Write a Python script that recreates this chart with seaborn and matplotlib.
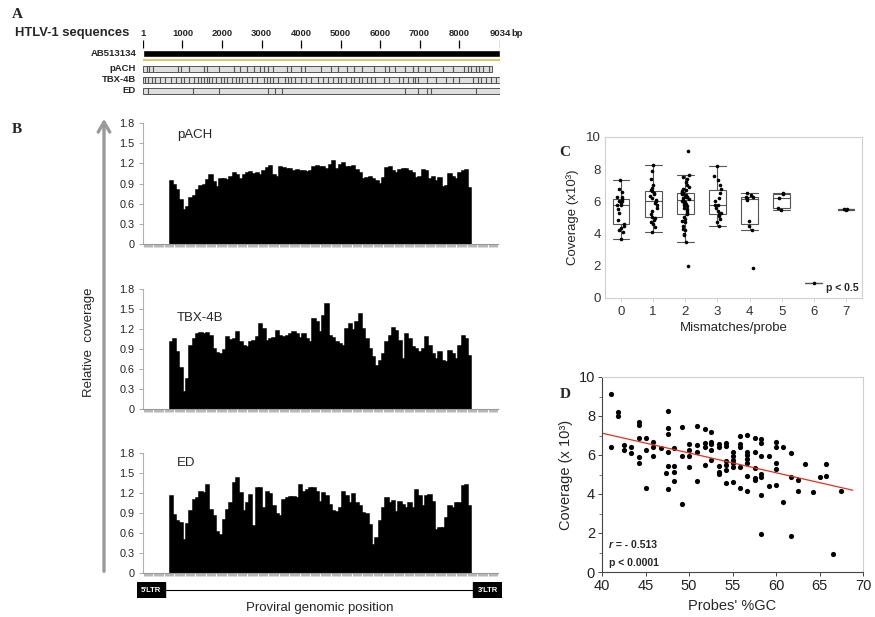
import numpy as np
import pandas as pd
import matplotlib
matplotlib.use("Agg")
import matplotlib.pyplot as plt
import seaborn as sns
from matplotlib.ticker import MultipleLocator
from matplotlib.patches import Rectangle, FancyArrowPatch

# ---------------- DATA ----------------
# Panel A: genome ruler and sequence mismatch positions (bp)
ruler_ticks = [1, 1000, 2000, 3000, 4000, 5000, 6000, 7000, 8000, 9034]
ref_name = "AB513134"
genome_len = 9034
seq_names = ["pACH", "TBX-4B", "ED"]
seq_lengths = [8842, 9034, 9034]
pach_mm = [92, 158, 258, 883, 967, 1175, 1550, 1633, 1925, 2300, 2467, 2633, 2800, 2967, 3050,
           3175, 3300, 3633, 3758, 4008, 4092, 4508, 4758, 4925, 5175, 5342, 5550, 5842, 6133,
           6217, 6383, 6633, 6842, 6967, 7133, 7258, 7592, 7842, 8133, 8217, 8300, 8425, 8508,
           8592, 8758]
tbx_mm = [50, 133, 217, 300, 425, 550, 717, 842, 967, 1050, 1175, 1300, 1383, 1467, 1550, 1633,
          1675, 1758, 1842, 1967, 2050, 2133, 2258, 2342, 2425, 2508, 2633, 2758, 2883, 3050,
          3133, 3217, 3300, 3425, 3592, 3675, 3758, 3842, 4008, 4133, 4258, 4425, 4550, 4675,
          4800, 4925, 5008, 5133, 5258, 5342, 5467, 5550, 5675, 5758, 5883, 6092, 6217, 6467,
          6592, 6717, 6842, 6883, 6967, 7175, 7425, 7675, 7842, 8008, 8342, 8467, 8550, 8675,
          8800, 8925]
ed_mm = [133, 1258, 1925, 3175, 3342, 3508, 6633, 6967, 7175, 7300, 8425]

# Panel B: relative coverage along the provirus
pach_vals = [0.93, 0.88, 0.80, 0.66, 0.50, 0.55, 0.68, 0.72, 0.80, 0.87,
             0.88, 0.95, 1.02, 0.92, 0.85, 0.97, 0.96, 0.95, 1.00, 1.06,
             1.02, 0.97, 1.03, 1.06, 1.07, 1.04, 1.05, 1.03, 1.08, 1.13,
             1.16, 1.02, 1.00, 1.14, 1.13, 1.12, 1.11, 1.09, 1.10, 1.09,
             1.08, 1.07, 1.08, 1.15, 1.16, 1.15, 1.14, 1.11, 1.18, 1.23,
             1.12, 1.18, 1.20, 1.14, 1.15, 1.16, 1.10, 1.05, 0.96, 0.98,
             1.00, 0.96, 0.94, 0.89, 0.98, 1.13, 1.15, 1.08, 1.05, 1.10,
             1.12, 1.11, 1.08, 1.06, 0.98, 1.00, 1.10, 1.08, 0.97, 1.00,
             0.93, 0.98, 0.85, 0.87, 1.04, 1.00, 0.97, 1.05, 1.09, 1.10,
             0.84]
tbx_vals = [1.00, 1.05, 0.85, 0.62, 0.25, 0.45, 0.95, 1.05, 1.12, 1.14,
            1.12, 1.14, 1.10, 0.90, 0.84, 0.82, 0.88, 1.08, 1.03, 1.05,
            1.15, 1.00, 0.95, 0.93, 1.01, 1.02, 1.08, 1.27, 1.20, 1.02,
            1.05, 1.07, 1.17, 1.10, 1.08, 1.10, 1.13, 1.15, 1.12, 1.07,
            1.12, 1.05, 1.00, 1.35, 1.30, 1.15, 1.40, 1.57, 1.10, 1.07,
            1.00, 0.97, 0.95, 1.20, 1.28, 1.18, 1.30, 1.42, 1.20, 1.05,
            0.90, 0.78, 0.65, 0.72, 0.82, 1.00, 1.10, 1.22, 1.17, 1.02,
            0.75, 1.13, 1.05, 0.93, 0.90, 0.86, 0.90, 1.08, 0.95, 0.82,
            0.75, 0.85, 0.72, 0.70, 0.87, 0.82, 0.75, 0.95, 1.10, 1.05,
            0.80]
ed_vals = [1.15, 0.87, 0.78, 0.75, 0.50, 0.73, 0.93, 1.10, 1.12, 1.22,
           1.20, 1.32, 0.95, 0.85, 0.62, 0.57, 0.80, 0.95, 1.05, 1.35,
           1.42, 1.20, 0.93, 1.05, 1.17, 0.70, 1.28, 1.27, 0.97, 1.22,
           1.18, 1.00, 0.88, 0.85, 1.10, 1.12, 1.14, 1.14, 1.13, 1.32,
           1.22, 1.25, 1.27, 1.28, 1.22, 1.07, 1.20, 1.15, 1.02, 0.93,
           0.92, 0.97, 1.22, 1.15, 1.05, 1.18, 1.05, 1.00, 0.90, 0.88,
           0.72, 0.42, 0.53, 0.78, 0.97, 1.12, 1.05, 1.08, 0.92, 1.07,
           1.02, 0.97, 1.05, 0.98, 1.25, 1.15, 1.00, 1.15, 1.17, 1.07,
           0.65, 0.67, 0.67, 0.83, 1.00, 0.97, 1.05, 1.05, 1.30, 1.32,
           1.00]
b_yticks = [0, 0.3, 0.6, 0.9, 1.2, 1.5, 1.8]
b_yticklabels = ["0", "0.3", "0.6", "0.9", "1.2", "1.5", "1.8"]

# Panel C: coverage (x10^3) by number of mismatches per probe
mm0 = [3.65, 4.1, 4.2, 4.35, 4.5, 4.6, 4.85, 5.3, 5.5, 5.75, 5.8, 5.9, 6.0, 6.05, 6.15, 6.25, 6.3, 6.6, 6.75, 7.3]
mm1 = [4.1, 4.4, 4.6, 4.75, 4.85, 4.95, 5.05, 5.2, 5.4, 5.6, 5.8, 5.9, 6.0, 6.1, 6.2, 6.35, 6.45, 6.55,
       6.65, 6.7, 6.85, 7.0, 7.4, 7.9, 8.25]
mm2 = [2.0, 3.5, 3.9, 4.0, 4.2, 4.3, 4.5, 4.7, 4.8, 4.9, 5.05, 5.2, 5.3, 5.4, 5.5, 5.6, 5.7, 5.75, 5.85,
       5.9, 5.95, 6.0, 6.1, 6.15, 6.2, 6.25, 6.3, 6.3, 6.35, 6.4, 6.45, 6.5, 6.5, 6.55, 6.6, 6.65, 6.7,
       6.8, 6.9, 7.0, 7.2, 7.4, 7.5, 7.65, 9.1]
mm3 = [4.5, 4.7, 4.9, 5.1, 5.2, 5.3, 5.4, 5.6, 5.75, 5.8, 6.0, 6.2, 6.5, 6.8, 7.0, 7.3, 7.6, 8.2]
mm4 = [1.85, 4.25, 4.5, 4.8, 6.1, 6.2, 6.25, 6.3, 6.4, 6.5]
mm5 = [5.45, 5.6, 6.2, 6.45, 6.5]
mm6 = [0.95]
mm7 = [5.45, 5.5, 5.55]
mm_groups = [mm0, mm1, mm2, mm3, mm4, mm5, mm6, mm7]

# Panel D: probe GC content vs coverage
gc = [41.0, 41.0, 41.8, 41.8, 42.5, 42.5, 43.3, 43.3,
      44.3, 44.3, 44.3, 44.3, 44.3, 45.1, 45.1, 45.1, 45.9, 45.9, 45.9, 46.8, 47.3,
      47.6, 47.6, 47.6, 47.6, 47.6, 47.6, 48.3, 48.3, 48.3, 48.3, 49.2, 49.2, 49.2,
      50.0, 50.0, 50.0, 50.0, 50.9, 50.9, 50.9, 50.9, 51.8, 51.8, 51.8, 51.8,
      52.5, 52.5, 52.5, 52.5, 52.5, 53.4, 53.4, 53.4, 53.4, 53.4,
      54.3, 54.3, 54.3, 54.3, 54.3, 54.3, 55.0, 55.0, 55.0, 55.0, 55.0, 55.0,
      55.9, 55.9, 55.9, 55.9, 55.9, 56.7, 56.7, 56.7, 56.7, 56.7, 56.7, 56.7,
      57.6, 57.6, 57.6, 57.6, 57.6, 58.3, 58.3, 58.3, 58.3, 58.3, 58.3, 58.3,
      59.2, 59.2, 60.0, 60.0, 60.0, 60.0, 60.0, 60.8, 60.8, 61.7, 61.7, 61.7,
      62.5, 62.5, 63.3, 64.2, 65.0, 65.7, 65.7, 66.6, 67.5]
cov = [9.15, 6.39, 8.2, 7.98, 6.5, 6.25, 6.39, 6.12,
       7.7, 7.53, 6.85, 5.88, 5.6, 6.85, 6.25, 4.29, 6.68, 6.39, 5.95, 6.34, 5.06,
       8.26, 7.36, 7.1, 6.17, 5.43, 4.24, 6.34, 5.43, 5.14, 4.67, 7.44, 5.95, 3.49,
       6.56, 6.25, 5.95, 5.4, 7.48, 6.51, 6.17, 4.67, 7.31, 6.63, 6.39, 5.49,
       7.19, 6.68, 6.56, 6.25, 5.74, 6.56, 6.39, 5.43, 5.14, 5.01,
       6.63, 6.46, 5.71, 5.49, 5.23, 4.58, 6.17, 5.95, 5.74, 5.57, 5.37, 4.63,
       6.97, 6.56, 6.39, 5.4, 4.29, 7.02, 6.17, 6.0, 5.78, 5.6, 4.92, 4.17,
       6.85, 6.17, 5.32, 4.8, 4.72, 6.8, 6.63, 5.95, 5.03, 4.86, 3.95, 1.96,
       5.95, 4.41, 6.68, 6.39, 5.57, 5.26, 4.46, 6.39, 3.61, 6.08, 4.86, 1.87,
       4.72, 4.17, 5.54, 4.09, 4.86, 5.52, 4.92, 0.94, 4.17]

# ---------------- FIGURE ----------------
sns.set_theme(style="white")
plt.rcParams['font.family'] = ['Liberation Sans', 'DejaVu Sans']
SERIF = ['Liberation Serif', 'DejaVu Serif']

W, H = 875, 617
fig = plt.figure(figsize=(8.75, 6.17), dpi=100)


def px_axes(left, top, right, bottom):
    return fig.add_axes([left / W, 1 - bottom / H, (right - left) / W, (bottom - top) / H])


def ftext(x, y, s, **kw):
    return fig.text(x / W, 1 - y / H, s, **kw)


# panel letters
for letter, (lx, ly) in zip("ABCD", [(17, 15), (17, 130), (565, 152), (565, 395)]):
    ftext(lx, ly, letter, family=SERIF, weight='bold', fontsize=11, ha='center', va='center')

# ---------------- Panel A ----------------
axA = px_axes(143, 28, 500, 98)
axA.set_xlim(1, genome_len)
axA.set_ylim(98, 28)
axA.axis('off')
for t in ruler_ticks:
    axA.text(t, 33, str(t), ha='center', va='center', fontsize=6.8, weight='bold')
axA.text(genome_len + 280, 33, "bp", ha='left', va='center', fontsize=6.8, weight='bold', clip_on=False)
axA.vlines(ruler_ticks, 40, 47.5, color='black', lw=0.9)
axA.barh(53.5, genome_len - 1, left=1, height=7, color='black')
axA.hlines(59.5, 1, genome_len, color='#d2b93a', lw=1.1)
axA.annotate(ref_name, (1, 53.5), xytext=(-5, 0), textcoords='offset points',
             ha='right', va='center', fontsize=6.8, weight='bold', annotation_clip=False)
track_rows = [68.5, 79.5, 90.5]
for name, length, mm, yrow in zip(seq_names, seq_lengths, [pach_mm, tbx_mm, ed_mm], track_rows):
    axA.barh(yrow, length - 1, left=1, height=6, color='#dedede', edgecolor='#555555', lw=0.7)
    axA.vlines(mm, yrow - 3, yrow + 3, color='#555555', lw=0.8)
    axA.annotate(name, (1, yrow), xytext=(-5, 0), textcoords='offset points',
                 ha='right', va='center', fontsize=6.8, weight='bold', annotation_clip=False)
ftext(15, 33, "HTLV-1 sequences", fontsize=9.4, weight='bold', ha='left', va='center')

# ---------------- Panel B ----------------
lead, trail = 8, 8
b_panels = [("pACH", pach_vals, 123, 244, 0.90),
            ("TBX-4B", tbx_vals, 289, 409, 0.76),
            ("ED", ed_vals, 453, 573, 0.92)]
for label, vals, top, bottom, ty in b_panels:
    ax = px_axes(143, top, 498, bottom)
    n = len(vals)
    df = pd.DataFrame({"pos": np.arange(n), "val": vals})
    order = list(range(-lead, n + trail))
    sns.barplot(data=df, x="pos", y="val", order=order, color='black', width=1.0,
                edgecolor='black', linewidth=1.1, saturation=1, errorbar=None, ax=ax)
    ax.set_xlim(-0.5, len(order) - 0.5)
    ax.set_ylim(0, 1.8)
    ax.set_yticks(b_yticks)
    ax.set_yticklabels(b_yticklabels)
    ax.set_xticks(range(len(order)))
    ax.set_xticklabels([])
    ax.xaxis.set_minor_locator(MultipleLocator(1 / 3))
    ax.tick_params(axis='x', which='both', length=2.5, width=0.5, color='#9a9a9a', direction='out', bottom=True)
    ax.tick_params(axis='y', length=3, width=0.6, color='#9a9a9a', direction='out', left=True,
                   labelsize=7.8, labelcolor='#222222', pad=3)
    ax.set_xlabel("")
    ax.set_ylabel("")
    for s in ['top', 'right']:
        ax.spines[s].set_visible(False)
    ax.spines['left'].set_color('#b0b0b0')
    ax.spines['bottom'].set_color('#9a9a9a')
    ax.spines['left'].set_linewidth(0.8)
    ax.spines['bottom'].set_linewidth(0.8)
    ax.text(0.096, ty, label, transform=ax.transAxes, fontsize=9.5, ha='left', va='center')

arrow = FancyArrowPatch((104 / W, 1 - 574 / H), (104 / W, 1 - 116 / H), transform=fig.transFigure,
                        arrowstyle='->,head_length=0.6,head_width=0.35', color='#9a9a9a', lw=2.4,
                        mutation_scale=12)
fig.add_artist(arrow)
ftext(89, 342, "Relative  coverage", rotation=90, fontsize=9.5, ha='center', va='center')

axL = px_axes(137, 582, 502, 598)
axL.set_xlim(137, 502)
axL.set_ylim(0, 1)
axL.axis('off')
axL.hlines(0.5, 165, 473, color='black', lw=0.8)
for x0, x1, s in [(137, 165, "5'LTR"), (473, 502, "3'LTR")]:
    axL.add_patch(Rectangle((x0, 0), x1 - x0, 1, color='black'))
    axL.text((x0 + x1) / 2, 0.5, s, color='white', fontsize=5.5, weight='bold', ha='center', va='center')
ftext(320, 608, "Proviral genomic position", fontsize=9.5, ha='center', va='center')

# ---------------- Panel C ----------------
axC = px_axes(605, 137, 862, 298)
dfc = pd.DataFrame({"mm": np.concatenate([[i] * len(g) for i, g in enumerate(mm_groups)]),
                    "cov": np.concatenate(mm_groups)})
cats = list(range(len(mm_groups)))
box_kws = dict(data=dfc, x="mm", y="cov", order=cats, width=0.52, color='white', linecolor='#555555',
               linewidth=0.8, showfliers=False, whis=1.5, ax=axC)
try:
    sns.boxplot(capwidths=0.52, **box_kws)
except Exception:
    axC.cla()
    sns.boxplot(**box_kws)
np.random.seed(3)
sns.stripplot(data=dfc, x="mm", y="cov", order=cats, color='black', size=2.6, jitter=0.12, ax=axC)
axC.set_xlim(-0.5, 7.5)
axC.set_ylim(0, 10)
axC.set_yticks([0, 2, 4, 6, 8, 10])
for s in axC.spines.values():
    s.set_color('#cfcfcf')
    s.set_linewidth(0.8)
axC.tick_params(axis='both', labelsize=9.5, labelcolor='#333333', length=0, pad=3)
axC.tick_params(axis='x', length=3, width=0.6, color='#cfcfcf', bottom=True, direction='out')
axC.set_xlabel("Mismatches/probe", fontsize=9.5, labelpad=3)
axC.set_ylabel("Coverage (x10³)", fontsize=9.5, labelpad=5)
axC.text(0.86, 0.065, "p < 0.5", transform=axC.transAxes, fontsize=7.5, weight='bold', ha='left', va='center')

# ---------------- Panel D ----------------
axD = px_axes(602, 377, 863, 572)
sns.regplot(x=gc, y=cov, ci=None, truncate=False, ax=axD,
            scatter_kws=dict(s=14, color='black', linewidths=0, alpha=1),
            line_kws=dict(color='#e0321e', lw=0.9))
axD.set_xlim(40, 70)
axD.set_ylim(0, 10)
axD.set_xticks([40, 45, 50, 55, 60, 65, 70])
axD.set_yticks([0, 2, 4, 6, 8, 10])
axD.yaxis.set_minor_locator(MultipleLocator(1))
axD.tick_params(axis='both', which='major', labelsize=10.5, labelcolor='#222222', length=3,
                width=0.7, color='#444444', direction='out', left=True, bottom=True, pad=2)
axD.tick_params(axis='y', which='minor', length=2, width=0.6, color='#666666', left=True)
axD.spines['left'].set_color('#444444')
axD.spines['bottom'].set_color('#444444')
axD.spines['top'].set_color('#cfcfcf')
axD.spines['right'].set_color('#cfcfcf')
for s in axD.spines.values():
    s.set_linewidth(0.8)
axD.set_xlabel("Probes' %GC", fontsize=10.5, labelpad=4)
axD.set_ylabel("Coverage (x 10³)", fontsize=10.5, labelpad=4)
tr = axD.text(0.025, 0.14, "r", transform=axD.transAxes, fontsize=7.5, weight='bold', style='italic',
              ha='left', va='center')
axD.annotate(" = - 0.513", xy=(1, 0.5), xycoords=tr, fontsize=7.5, weight='bold', ha='left', va='center')
axD.text(0.025, 0.048, "p < 0.0001", transform=axD.transAxes, fontsize=7.5, weight='bold',
         ha='left', va='center')

fig.savefig("out.png", dpi=100)
